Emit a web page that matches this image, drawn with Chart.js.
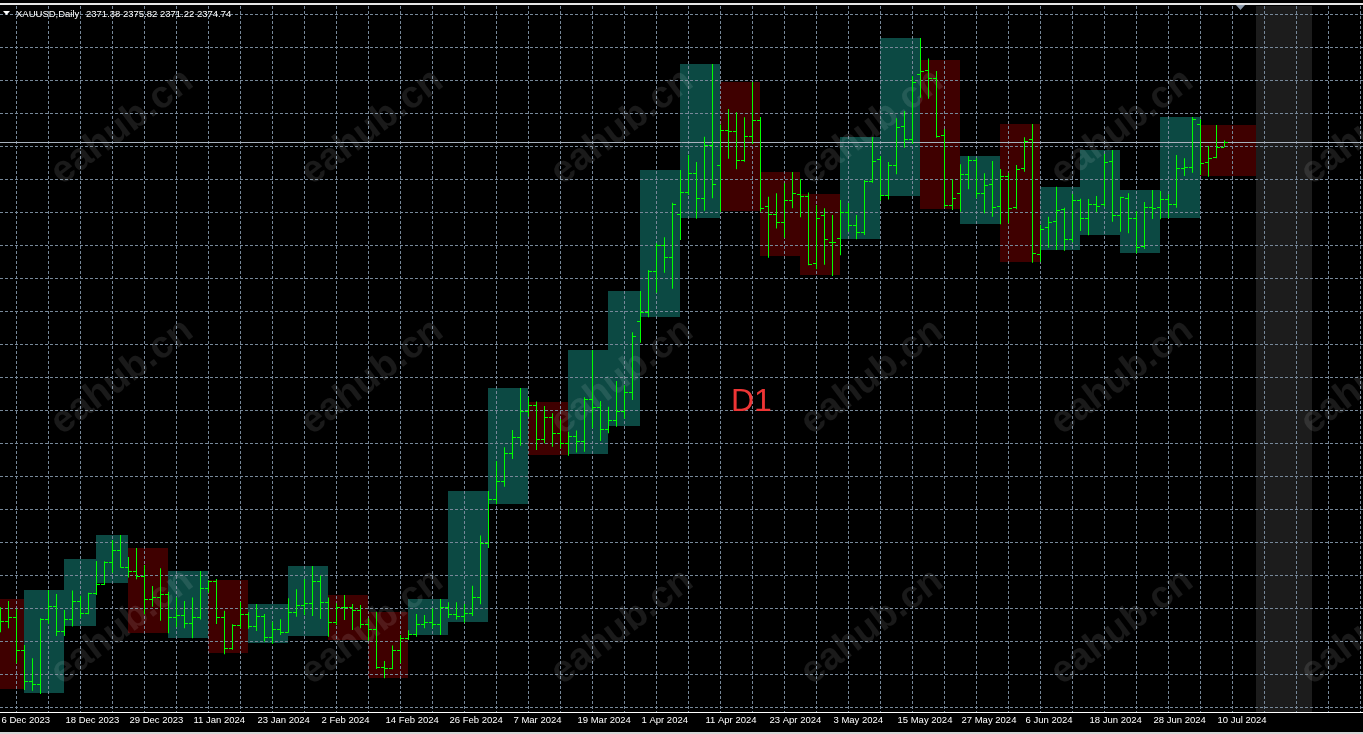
<!DOCTYPE html>
<html><head><meta charset="utf-8">
<script src="https://cdn.jsdelivr.net/npm/chart.js@4.4.1/dist/chart.umd.min.js"></script>
<style>html,body{margin:0;padding:0;background:#000;overflow:hidden}canvas{display:block}</style>
</head><body>
<canvas id="c" width="1363" height="734"></canvas>
<script>
const symbolName = "XAUUSD,Daily";
const periodName = "D1";
const watermarkText = "eahub.cn";
const bidPrice = 2374.74;

const open = [
2019.9,2026.4,2029.0,2005.3,1982.8,1980.4,2027.7,2037.3,2019.4,2027.7,
2041.0,2032.0,2046.6,2053.1,2069.1,2078.0,2065.9,2062.5,2059.1,2042.4,
2044.1,2045.8,2029.3,2030.8,2024.7,2029.3,2050.2,2055.5,2029.3,2006.6,
2023.7,2031.3,2022.8,2030.0,2015.0,2020.6,2018.6,2033.2,2038.0,2039.3,
2055.5,2040.0,2025.5,2036.8,2036.4,2034.4,2024.2,2020.4,1993.2,1992.5,
2005.3,2013.8,2016.7,2024.5,2025.9,2024.5,2036.8,2031.5,2030.2,2032.5,
2044.0,2083.1,2115.1,2128.2,2148.8,2160.0,2179.1,2183.3,2158.6,2174.6,
2162.9,2156.1,2161.0,2157.3,2187.6,2181.8,2166.0,2172.6,2179.1,2192.7,
2244.6,2251.4,2281.0,2299.9,2290.9,2322.2,2338.6,2352.0,2333.8,2372.4,
2357.8,2383.3,2382.8,2361.5,2378.9,2390.6,2328.2,2322.2,2316.4,2332.4,
2337.0,2335.5,2286.6,2321.7,2302.1,2304.7,2324.1,2314.4,2309.1,2346.4,
2362.2,2336.0,2357.8,2386.4,2377.0,2424.0,2426.9,2421.1,2379.6,2329.0,
2337.5,2351.5,2361.5,2337.5,2344.0,2328.4,2350.3,2327.3,2356.1,2376.7,
2293.1,2312.7,2317.1,2325.8,2304.0,2332.6,2319.3,2329.5,2329.5,2360.7,
2321.7,2334.3,2319.3,2299.4,2327.7,2327.3,2333.3,2329.5,2356.1,2356.8,
2387.6,2360.0,2364.1,2371.38];
const high = [
2036.4,2041.0,2035.1,2009.0,1999.3,2028.4,2049.0,2046.1,2034.4,2048.5,
2044.8,2047.0,2070.0,2069.8,2085.3,2089.0,2073.0,2079.5,2067.1,2051.9,
2064.7,2047.7,2043.4,2041.0,2043.4,2062.8,2056.0,2057.0,2033.9,2024.0,
2040.2,2032.7,2038.8,2031.5,2025.9,2027.7,2042.9,2049.5,2057.0,2066.4,
2059.4,2043.4,2039.3,2045.3,2038.8,2038.0,2028.4,2033.2,1997.3,2008.5,
2016.2,2019.7,2031.5,2030.8,2035.6,2042.4,2040.0,2040.0,2038.8,2052.0,
2088.5,2121.0,2142.8,2152.7,2165.3,2195.9,2189.1,2186.0,2182.8,2177.5,
2173.3,2164.1,2165.0,2189.1,2223.5,2186.4,2182.3,2201.0,2197.8,2236.4,
2266.4,2281.7,2301.1,2305.5,2330.6,2354.4,2365.3,2360.2,2378.6,2431.5,
2387.6,2398.8,2396.4,2392.7,2418.4,2393.0,2335.0,2337.5,2344.7,2353.0,
2347.9,2338.0,2329.0,2326.6,2321.7,2332.6,2330.4,2321.7,2347.1,2378.4,
2364.6,2360.2,2392.0,2397.3,2422.8,2450.4,2435.6,2426.4,2384.2,2347.6,
2358.6,2364.6,2362.9,2352.0,2361.0,2355.1,2352.4,2358.0,2378.2,2387.9,
2314.4,2320.5,2342.3,2327.0,2337.0,2333.5,2333.3,2335.5,2366.1,2369.0,
2335.0,2337.5,2324.6,2331.1,2339.9,2339.1,2336.7,2365.3,2362.9,2393.0,
2391.3,2371.9,2387.1,2375.82];
const low = [
2018.2,2021.1,1995.6,1976.2,1975.7,1973.3,2024.2,2015.5,2015.5,2022.3,
2028.4,2031.3,2045.3,2052.5,2061.5,2065.2,2058.0,2056.7,2031.3,2036.8,
2026.6,2017.5,2021.8,2021.1,2013.8,2027.5,2047.0,2024.2,2002.2,2005.5,
2021.1,2020.8,2019.1,2011.4,2009.7,2016.2,2017.9,2029.5,2030.8,2030.0,
2027.9,2015.0,2023.5,2027.1,2019.9,2021.1,2012.1,1991.5,1984.7,1991.3,
1995.6,2012.6,2015.0,2021.1,2021.1,2016.2,2028.6,2027.5,2025.2,2030.0,
2038.5,2079.5,2111.3,2124.1,2144.2,2153.9,2175.0,2150.8,2155.6,2153.2,
2152.0,2146.6,2149.0,2149.5,2166.6,2157.3,2163.0,2167.7,2173.5,2187.1,
2228.8,2247.3,2265.2,2279.7,2268.1,2303.5,2336.2,2319.0,2324.8,2333.8,
2324.1,2362.6,2354.9,2360.5,2373.1,2324.1,2290.6,2311.9,2305.2,2326.6,
2320.0,2285.1,2282.2,2285.5,2277.3,2292.4,2309.5,2304.0,2307.1,2345.2,
2332.1,2333.0,2351.3,2370.6,2373.3,2407.0,2406.3,2377.9,2327.0,2325.3,
2324.1,2340.4,2333.8,2322.9,2320.5,2314.9,2315.6,2325.8,2353.2,2287.0,
2287.7,2297.9,2296.2,2295.7,2301.8,2310.1,2306.9,2323.7,2327.7,2316.8,
2309.5,2308.4,2293.8,2297.0,2318.8,2318.6,2319.3,2327.0,2350.1,2352.4,
2350.8,2349.5,2362.9,2371.22];
const close = [
2026.4,2029.0,2005.3,1982.8,1980.4,2027.7,2037.3,2019.4,2027.7,2041.0,
2032.0,2046.6,2053.1,2069.1,2078.0,2065.9,2062.5,2059.1,2042.4,2044.1,
2045.8,2029.3,2030.8,2024.7,2029.3,2050.2,2055.5,2029.3,2006.6,2023.7,
2031.3,2022.8,2030.0,2015.0,2020.6,2018.6,2033.2,2038.0,2039.3,2055.5,
2040.0,2025.5,2036.8,2036.4,2034.4,2024.2,2020.4,1993.2,1992.5,2005.3,
2013.8,2016.7,2024.5,2025.9,2024.5,2036.8,2031.5,2030.2,2032.5,2044.0,
2083.0,2115.1,2128.2,2148.8,2160.0,2179.1,2183.3,2158.6,2174.6,2162.9,
2156.1,2161.0,2157.3,2187.6,2181.8,2166.0,2172.6,2179.1,2192.7,2233.7,
2251.4,2281.0,2299.9,2290.9,2329.7,2338.6,2352.0,2333.8,2372.4,2344.0,
2383.3,2382.8,2361.5,2378.9,2390.6,2327.0,2322.2,2316.4,2332.4,2338.0,
2335.5,2286.1,2319.3,2304.0,2302.3,2324.1,2314.4,2309.1,2346.4,2361.0,
2336.0,2357.8,2385.5,2377.0,2418.4,2426.4,2421.1,2379.1,2329.0,2333.8,
2351.5,2361.5,2337.9,2343.3,2327.5,2350.3,2326.6,2354.9,2375.7,2293.8,
2311.5,2316.8,2325.3,2304.0,2332.6,2319.3,2329.5,2328.2,2360.2,2321.7,
2334.6,2319.3,2298.6,2327.7,2327.0,2333.3,2329.5,2356.1,2356.8,2391.5,
2359.7,2363.4,2371.4,2374.74];

// one label every 8 bars, starting at bar 0
const tickLabels = ["6 Dec 2023","18 Dec 2023","29 Dec 2023","11 Jan 2024","23 Jan 2024","2 Feb 2024",
  "14 Feb 2024","26 Feb 2024","7 Mar 2024","19 Mar 2024","1 Apr 2024","11 Apr 2024","23 Apr 2024",
  "3 May 2024","15 May 2024","27 May 2024","6 Jun 2024","18 Jun 2024","28 Jun 2024","10 Jul 2024"];

// weekly boxes (bar index range, high, low, direction: 1 up, -1 down, 0 = empty next week)
const boxStart = [-2,3,8,12,16,21,26,31,36,41,46,51,56,61,66,71,76,80,85,90,95,100,105,110,115,120,125,130,135,140,145,150,157];
const boxEnd   = [3,8,12,16,21,26,31,36,41,46,51,56,61,66,71,76,80,85,90,95,100,105,110,115,120,125,130,135,140,145,150,157,164];
const boxHigh  = [2042.4,2049.0,2071.5,2089.0,2079.5,2062.8,2056.2,2038.8,2066.4,2045.3,2032.7,2042.4,2121.0,2195.9,2185.7,2223.5,2266.4,2354.4,2431.5,2418.6,2353.0,2337.2,2378.4,2450.4,2434.4,2364.6,2387.9,2342.1,2369.0,2339.9,2393.0,2387.1,null];
const boxLow   = [1977.2,1974.3,2023.0,2054.3,2017.9,2014.3,2003.4,2010.6,2015.5,2012.4,1985.0,2016.2,2025.7,2111.7,2147.1,2147.9,2168.2,2247.7,2319.7,2324.6,2292.1,2278.1,2304.2,2335.7,2326.1,2315.4,2287.5,2296.5,2307.1,2294.1,2319.7,2350.3,null];
const boxDir   = [-1,1,1,1,-1,1,-1,1,1,-1,-1,1,1,1,-1,1,1,1,1,-1,-1,-1,1,1,-1,1,-1,1,1,1,1,-1,0];

const X_MIN = -0.0625, X_MAX = X_MIN + 1363 / 8;
const Y_MIN = 1960.2, Y_MAX = 2473.7;
const GRID_BASE = 1963.5, GRID_STEP = 24;

const COL = {
  bar: '#00ff00', grid: '#778899', up: '#0c4943', down: '#3f0000', empty: '#1c1c1c',
  bid: '#aab3bf', text: '#ffffff', period: '#ee3535', wm: 'rgba(255,255,255,0.10)'
};
const FONT = '"Liberation Sans", Arial, sans-serif';

const mt4 = {
  id: 'mt4',
  beforeDraw(chart) {
    const {ctx, chartArea: a} = chart;
    const X = chart.scales.x, Y = chart.scales.y;
    ctx.save();
    ctx.fillStyle = '#000';
    ctx.fillRect(0, 0, chart.width, chart.height);
    ctx.beginPath(); ctx.rect(a.left, a.top, a.right - a.left, a.bottom - a.top); ctx.clip();
    for (let k = 0; k < boxStart.length; k++) {
      const x1 = Math.floor(X.getPixelForValue(boxStart[k]));
      const x2 = Math.floor(X.getPixelForValue(boxEnd[k]));
      const y1 = boxHigh[k] == null ? a.top : Math.round(Y.getPixelForValue(boxHigh[k]));
      const y2 = boxLow[k] == null ? a.bottom : Math.round(Y.getPixelForValue(boxLow[k]));
      ctx.fillStyle = boxDir[k] > 0 ? COL.up : (boxDir[k] < 0 ? COL.down : COL.empty);
      ctx.fillRect(x1, y1, x2 - x1, y2 - y1);
    }
    ctx.restore();
  },
  beforeDatasetsDraw(chart) {
    const {ctx, chartArea: a} = chart;
    const Y = chart.scales.y;
    ctx.save();
    ctx.beginPath(); ctx.rect(a.left, a.top, a.right - a.left, a.bottom - a.top); ctx.clip();
    // watermark
    ctx.font = 'bold 38px ' + FONT;
    ctx.textAlign = 'center'; ctx.textBaseline = 'middle';
    ctx.fillStyle = COL.wm;
    for (let r = 0; r < 3; r++) {
      for (let c = 0; c < 6; c++) {
        ctx.save();
        ctx.translate(122 + 250 * c, 127 + 250 * r);
        ctx.rotate(-37 * Math.PI / 180);
        ctx.fillText(watermarkText, 0, 0);
        ctx.restore();
      }
    }
    // bid line
    const yb = Math.round(Y.getPixelForValue(bidPrice)) + 0.5;
    ctx.strokeStyle = COL.bid; ctx.lineWidth = 1;
    ctx.beginPath(); ctx.moveTo(a.left, yb); ctx.lineTo(a.right, yb); ctx.stroke();
    ctx.restore();
  },
  afterDatasetsDraw(chart) {
    const {ctx} = chart;
    const X = chart.scales.x, Y = chart.scales.y;
    ctx.save();
    ctx.strokeStyle = COL.bar; ctx.lineWidth = 1;
    ctx.beginPath();
    for (let i = 0; i < open.length; i++) {
      const x = Math.floor(X.getPixelForValue(i));
      const yo = Math.round(Y.getPixelForValue(open[i])) + 0.5;
      const yc = Math.round(Y.getPixelForValue(close[i])) + 0.5;
      ctx.moveTo(x - 3, yo); ctx.lineTo(x, yo);
      ctx.moveTo(x + 1, yc); ctx.lineTo(x + 4, yc);
    }
    ctx.stroke();
    ctx.restore();
  },
  afterDraw(chart) {
    const {ctx, chartArea: a} = chart;
    const X = chart.scales.x;
    const n = open.length - 1;
    ctx.save();
    // frame lines
    ctx.fillStyle = '#e6e6e6';
    ctx.fillRect(0, 3, chart.width, 2);
    ctx.fillStyle = '#ffffff';
    ctx.fillRect(0, a.bottom, chart.width, 1);
    ctx.fillStyle = '#d6d6d6';
    ctx.fillRect(0, chart.height - 2, chart.width, 2);
    // shift marker
    const xs = Math.floor(X.getPixelForValue(155));
    ctx.fillStyle = '#8c9aab';
    ctx.beginPath(); ctx.moveTo(xs - 4, 5); ctx.lineTo(xs + 5, 5); ctx.lineTo(xs + 0.5, 10); ctx.closePath(); ctx.fill();
    // header
    ctx.fillStyle = COL.text;
    ctx.beginPath(); ctx.moveTo(3, 11); ctx.lineTo(10, 11); ctx.lineTo(6.5, 15); ctx.closePath(); ctx.fill();
    ctx.font = '9.5px ' + FONT;
    ctx.textBaseline = 'alphabetic'; ctx.textAlign = 'left';
    ctx.fillText(symbolName, 16, 17);
    ctx.fillText([open[n], high[n], low[n], close[n]].map(v => v.toFixed(2)).join(' '), 86, 17);
    // period label
    ctx.fillStyle = COL.period;
    ctx.font = '32px ' + FONT;
    ctx.fillText(periodName, 731, 411);
    ctx.restore();
  }
};

new Chart(document.getElementById('c'), {
  type: 'bar',
  data: {
    datasets: [{
      label: 'range',
      data: high.map((h, i) => ({x: i, y: [low[i], h]})),
      backgroundColor: COL.bar,
      borderWidth: 0,
      barThickness: 1,
      inflateAmount: 0,
      grouped: false
    }]
  },
  options: {
    responsive: false,
    animation: false,
    devicePixelRatio: 1,
    layout: {padding: {top: 6, left: 0, right: 0, bottom: 0}},
    plugins: {legend: {display: false}, tooltip: {enabled: false}},
    scales: {
      x: {
        type: 'linear', min: X_MIN, max: X_MAX, bounds: 'data', offset: false,
        afterBuildTicks: s => { const t = []; for (let v = 0; v <= X_MAX; v += 4) t.push({value: v}); s.ticks = t; },
        afterFit: s => { s.height = 22; s.paddingLeft = 0; s.paddingRight = 0; },
        grid: {color: COL.grid, lineWidth: 1, drawTicks: false, drawOnChartArea: true},
        border: {display: false, dash: [3, 2]},
        ticks: {
          autoSkip: false, maxRotation: 0, minRotation: 0, align: 'start', labelOffset: 1, padding: 3,
          color: COL.text, font: {family: FONT, size: 9.5},
          callback: v => (v % 8 === 0 && tickLabels[v / 8]) ? tickLabels[v / 8] : ''
        }
      },
      y: {
        type: 'linear', position: 'right', min: Y_MIN, max: Y_MAX, bounds: 'data',
        afterBuildTicks: s => { const t = []; for (let v = GRID_BASE; v <= Y_MAX; v += GRID_STEP) t.push({value: v}); s.ticks = t; },
        afterFit: s => { s.width = 0; s.paddingTop = 0; s.paddingBottom = 0; },
        grid: {color: COL.grid, lineWidth: 1, drawTicks: false},
        border: {display: false, dash: [3, 2]},
        ticks: {display: false}
      }
    }
  },
  plugins: [mt4]
});
</script>
</body></html>
